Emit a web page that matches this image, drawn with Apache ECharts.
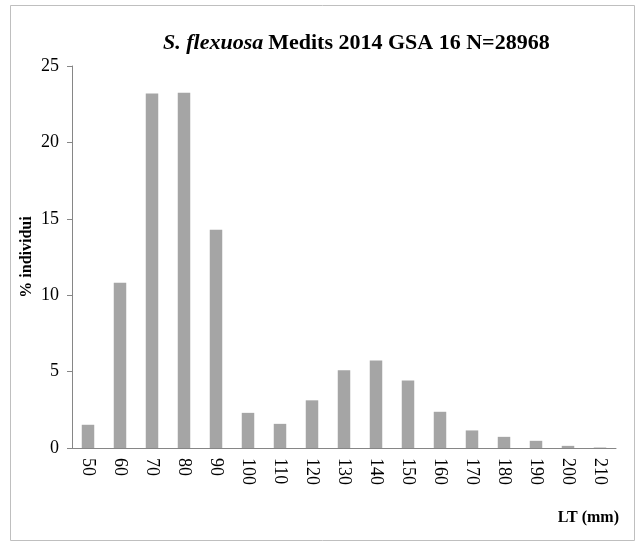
<!DOCTYPE html>
<html lang="it">
<head>
    <meta charset="UTF-8">
    <title>echarts</title>
    <script src="https://cdn.jsdelivr.net/npm/echarts@6/dist/echarts.min.js"></script>
    <style>
        html, body { margin: 0; padding: 0; background: #fff; }
    </style>
</head>
<body>
    <div id="charts1" style="width: 638px;height:543px;"></div>
    <script type="text/javascript">
        // classi di lunghezza (mm) e percentuale di individui
        var categories = ['50', '60', '70', '80', '90', '100', '110', '120', '130',
                          '140', '150', '160', '170', '180', '190', '200', '210'];
        var percent = [1.52, 10.82, 23.2, 23.25, 14.28, 2.30, 1.58, 3.12, 5.09,
                       5.72, 4.42, 2.37, 1.15, 0.73, 0.47, 0.14, 0.03];
        var yTicks = [0, 5, 10, 15, 20, 25];

        var serif = 'Liberation Serif';
        var myChart = echarts.init(document.getElementById('charts1'));

        option = {
            backgroundColor: '#fff',
            animation: false,
            title: [{
                text: '{i|S. flexuosa} {b|Medits 2014 GSA 16 N=28968}',
                left: 158,
                top: 27,
                textStyle: {
                    rich: {
                        i: { fontFamily: serif, fontSize: 22, fontWeight: 'bold', fontStyle: 'italic', color: '#000' },
                        b: { fontFamily: serif, fontSize: 22, fontWeight: 'bold', color: '#000' }
                    }
                }
            }, {
                text: 'LT (mm)',
                right: 14,
                top: 505,
                textStyle: { fontFamily: serif, fontSize: 16, fontWeight: 'bold', color: '#000' }
            }],
            graphic: [{
                type: 'rect',
                shape: { x: 10.5, y: 5.5, width: 624, height: 535 },
                style: { fill: 'none', stroke: '#bfbfbf', lineWidth: 1 },
                silent: true
            }],
            grid: { left: 72, right: 22, top: 66, bottom: 95 },
            xAxis: {
                type: 'category',
                data: categories,
                axisLine: { lineStyle: { color: '#868686' } },
                axisTick: { length: 5, lineStyle: { color: '#868686' } },
                axisLabel: {
                    rotate: -90,
                    margin: 10,
                    fontFamily: serif,
                    fontSize: 18,
                    color: '#000'
                }
            },
            yAxis: {
                type: 'value',
                min: yTicks[0],
                max: yTicks[yTicks.length - 1],
                interval: 5,
                name: '% individui',
                nameLocation: 'middle',
                nameGap: 37,
                nameMoveOverlap: false,
                nameTextStyle: { fontFamily: serif, fontSize: 16, fontWeight: 'bold', color: '#000' },
                axisLine: { show: true, lineStyle: { color: '#868686' } },
                axisTick: { show: true, length: 5, lineStyle: { color: '#868686' } },
                splitLine: { show: false },
                axisLabel: { margin: 13, fontFamily: serif, fontSize: 18, color: '#000' }
            },
            series: [{
                type: 'bar',
                data: percent,
                barWidth: '39%',
                itemStyle: { color: '#a5a5a5' }
            }]
        };
        myChart.setOption(option);
    </script>
</body>
</html>
